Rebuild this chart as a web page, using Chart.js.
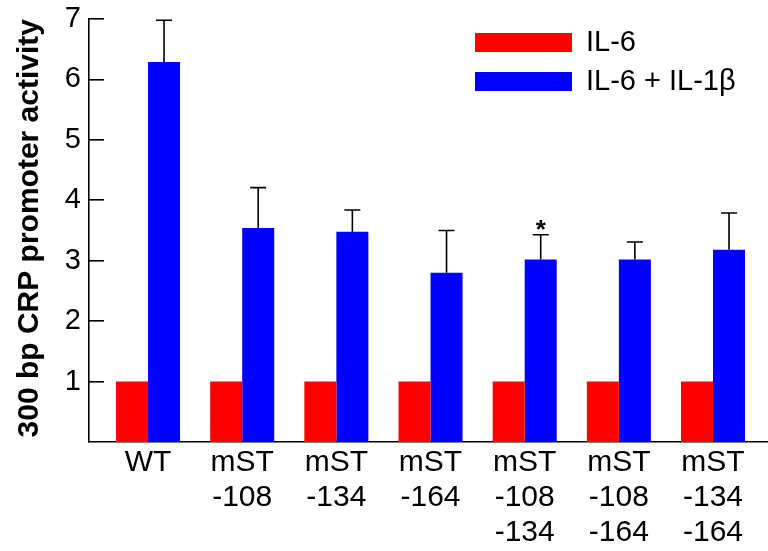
<!DOCTYPE html>
<html lang="en">
<head>
  <meta charset="UTF-8">
  <title>300 bp CRP promoter activity</title>
  <style>
    body {
      margin: 0;
      background: #fff;
    }
    #crp-chart {
      display: block;
    }
  </style>
</head>
<body>

  <canvas id="crp-chart" width="768" height="551"></canvas>

  <script src="https://cdn.jsdelivr.net/npm/chart.js"></script>
  <script>
    // values
    const groupLabels = [
      ['WT'],
      ['mST', '-108'],
      ['mST', '-134'],
      ['mST', '-164'],
      ['mST', '-108', '-134'],
      ['mST', '-108', '-164'],
      ['mST', '-134', '-164']
    ];
    const il6 = [1, 1, 1, 1, 1, 1, 1];
    const il6il1b = [6.29, 3.54, 3.48, 2.80, 3.02, 3.02, 3.18];
    const il6il1bErr = [0.69, 0.67, 0.36, 0.70, 0.41, 0.29, 0.61];
    const marks = ['', '', '', '', '*', '', ''];
    const yTicks = [1, 2, 3, 4, 5, 6, 7];

    const fontFamily = "'Liberation Sans', Arial, Helvetica, sans-serif";
    Chart.defaults.font.family = fontFamily;
    Chart.defaults.color = '#000';

    // upper error bars + significance mark on the blue bars
    const errorBars = {
      id: 'errorBars',
      afterDatasetsDraw(chart) {
        const ctx = chart.ctx;
        const yScale = chart.scales.y;
        const meta = chart.getDatasetMeta(1);
        ctx.save();
        ctx.strokeStyle = '#000';
        ctx.lineWidth = 1.6;
        meta.data.forEach((bar, i) => {
          const yTop = yScale.getPixelForValue(il6il1b[i] + il6il1bErr[i]);
          ctx.beginPath();
          ctx.moveTo(bar.x, bar.y);
          ctx.lineTo(bar.x, yTop);
          ctx.moveTo(bar.x - 8, yTop);
          ctx.lineTo(bar.x + 8, yTop);
          ctx.stroke();
          if (marks[i]) {
            ctx.fillStyle = '#000';
            ctx.font = 'bold 26px ' + fontFamily;
            ctx.textAlign = 'center';
            ctx.textBaseline = 'alphabetic';
            ctx.fillText(marks[i], bar.x, yTop + 3);
          }
        });
        ctx.restore();
      }
    };

    // legend stacked in the top right corner of the plot
    const cornerLegend = {
      id: 'cornerLegend',
      afterDraw(chart) {
        const ctx = chart.ctx;
        const area = chart.chartArea;
        const left = area.right - 293;
        let top = area.top + 14;
        ctx.save();
        ctx.font = '29px ' + fontFamily;
        ctx.textAlign = 'left';
        ctx.textBaseline = 'middle';
        chart.data.datasets.forEach(ds => {
          ctx.fillStyle = ds.backgroundColor;
          ctx.fillRect(left, top, 97, 19);
          ctx.fillStyle = '#000';
          ctx.fillText(ds.label, left + 111, top + 10);
          top += 39;
        });
        ctx.restore();
      }
    };

    const ctx = document.getElementById('crp-chart').getContext('2d');
    new Chart(ctx, {
      type: 'bar',
      data: {
        datasets: [{
          label: 'IL-6',
          data: il6.map((v, i) => ({ x: i, y: v })),
          backgroundColor: '#ff0000',
          borderWidth: 0
        }, {
          label: 'IL-6 + IL-1\u03b2',
          data: il6il1b.map((v, i) => ({ x: i, y: v })),
          backgroundColor: '#0000ff',
          borderWidth: 0
        }]
      },
      options: {
        responsive: false,
        animation: false,
        barPercentage: 1,
        categoryPercentage: 0.68,
        layout: {
          padding: 0
        },
        plugins: {
          legend: { display: false },
          tooltip: { enabled: false }
        },
        scales: {
          x: {
            type: 'linear',
            offset: false,
            min: -0.627,
            max: 6.584,
            afterBuildTicks: s => { s.ticks = groupLabels.map((_, i) => ({ value: i })); },
            afterFit: s => { s.height = 109; },
            grid: { display: false, drawTicks: false, offset: false },
            border: { display: true, color: '#000', width: 1.6 },
            ticks: {
              padding: 3,
              font: { size: 30, lineHeight: 1.17 },
              callback: v => groupLabels[v] || ''
            }
          },
          y: {
            min: 0,
            max: 7,
            afterBuildTicks: s => { s.ticks = yTicks.map(v => ({ value: v })); },
            afterFit: s => {
              s.width = 89;
              s.paddingTop = 19;
            },
            grid: {
              drawOnChartArea: false,
              drawTicks: true,
              tickLength: -15,
              color: '#000',
              lineWidth: 1.6
            },
            border: { display: true, color: '#000', width: 1.6 },
            ticks: {
              padding: 23,
              font: { size: 29 }
            },
            title: {
              display: true,
              align: 'end',
              text: '300 bp CRP promoter activity',
              font: { size: 30, weight: 'bold' },
              padding: { top: 12, bottom: 0 }
            }
          }
        }
      },
      plugins: [errorBars, cornerLegend]
    });
  </script>
</body>
</html>
